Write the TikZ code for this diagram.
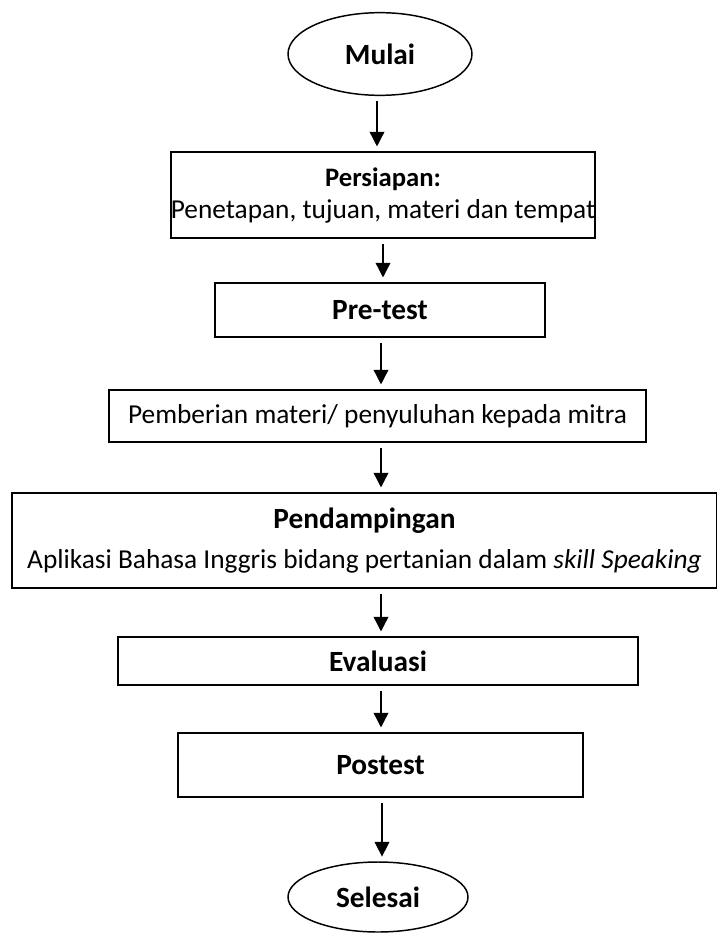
\documentclass[tikz,border=0pt]{standalone}
\usepackage{fontspec}
\setmainfont{Carlito}
\usetikzlibrary{shapes.geometric,arrows.meta}

\begin{document}
\begin{tikzpicture}[x=0.75pt,y=-0.75pt,
  kotak/.style={draw,line width=1.3pt,rectangle,align=center,inner sep=0pt,
    font=\fontsize{20.5pt}{24pt}\selectfont},
  oval/.style={draw,line width=1.1pt,ellipse,inner sep=0pt,
    font=\fontsize{22pt}{26pt}\selectfont\bfseries},
  judul/.style={font=\fontsize{22pt}{26pt}\selectfont\bfseries},
  panah/.style={-{Triangle[width=11pt,length=11pt]},line width=1.1pt,
    shorten <=4pt,shorten >=3.5pt}]

\useasboundingbox (0,0) rectangle (717,939);

\node[oval,minimum width=138pt,minimum height=62pt] (mulai) at (380,54) {Mulai};
\node[kotak,minimum width=317pt,minimum height=64.5pt] (persiapan) at (383,195)
  {{\fontsize{20pt}{24pt}\selectfont\bfseries Persiapan:}\\Penetapan, tujuan, materi dan tempat};
\node[kotak,judul,minimum width=247.5pt,minimum height=40.5pt] (pretest) at (380,310) {Pre-test};
\node[kotak,minimum width=402.75pt,minimum height=39pt] (pemberian) at (377.5,416)
  {Pemberian materi/ penyuluhan kepada mitra};
\node[kotak,minimum width=529pt,minimum height=71.25pt,
  font=\fontsize{20.5pt}{29.5pt}\selectfont] (pendampingan) at (364.5,540.5)
  {{\fontsize{22pt}{29.5pt}\selectfont\bfseries Pendampingan}\\
   Aplikasi Bahasa Inggris bidang pertanian dalam \textit{skill Speaking}};
\node[kotak,judul,minimum width=390pt,minimum height=36pt] (evaluasi) at (378,661) {Evaluasi};
\node[kotak,judul,minimum width=303.75pt,minimum height=48pt] (postest) at (380.5,765) {Postest};
\node[oval,minimum width=135pt,minimum height=52.5pt] (selesai) at (378,897) {Selesai};

\foreach \a/\b/\x in {mulai/persiapan/377, persiapan/pretest/383, pretest/pemberian/381,
  pemberian/pendampingan/381, pendampingan/evaluasi/381, evaluasi/postest/381,
  postest/selesai/382}
  \draw[panah] (\a.south -| \x,0) -- (\b.north -| \x,0);

\end{tikzpicture}
\end{document}
